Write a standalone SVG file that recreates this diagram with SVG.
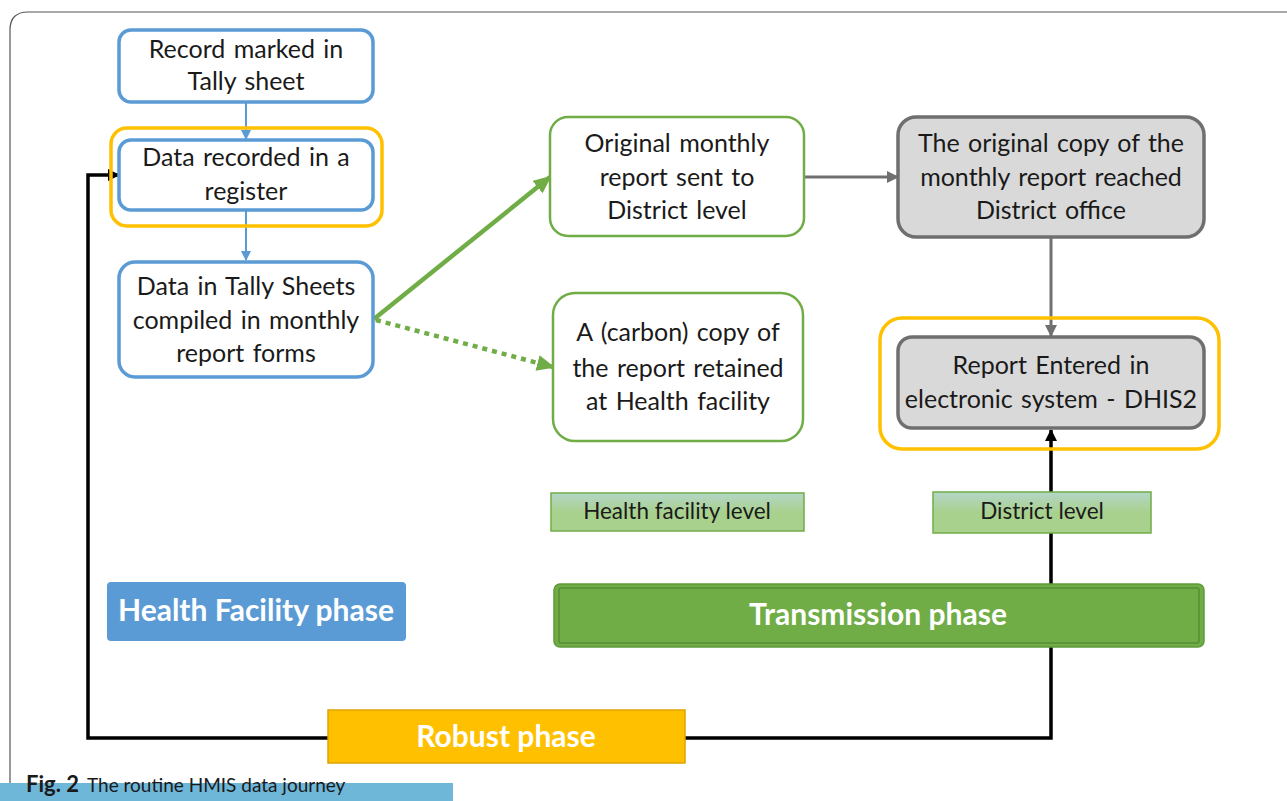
<svg xmlns="http://www.w3.org/2000/svg" width="1287" height="801" viewBox="0 0 1287 801">
<style>
  .t { font-family: Lato, "Liberation Sans", sans-serif; font-size: 25px; fill: #1a1a1a; text-anchor: middle; word-spacing: 2px; }
  .lvl { font-family: Lato, "Liberation Sans", sans-serif; font-size: 22.5px; fill: #1a1a1a; text-anchor: middle; }
  .ph { font-family: Lato, "Liberation Sans", sans-serif; font-size: 30px; font-weight: bold; fill: #ffffff; text-anchor: middle; }
  .blue { fill: #ffffff; stroke: #5b9bd5; stroke-width: 3.5; }
  .green { fill: #ffffff; stroke: #70ad47; stroke-width: 2.5; }
  .gray { fill: #d9d9d9; stroke: #6f6f6f; stroke-width: 3.5; }
  .yel { fill: none; stroke: #ffc000; stroke-width: 3.5; }
  .lv { fill: url(#lg); stroke: #70ad47; stroke-width: 1.5; }
</style>
<defs>
  <linearGradient id="lg" x1="0" y1="0" x2="0" y2="1">
    <stop offset="0" stop-color="#b4d6c8"/>
    <stop offset="0.5" stop-color="#a9d18e"/>
    <stop offset="1" stop-color="#a9d18e"/>
  </linearGradient>
  <marker id="ab" markerWidth="10" markerHeight="10" refX="9" refY="5" orient="auto" markerUnits="userSpaceOnUse"><path d="M0,0 L10,5 L0,10 z" fill="#5b9bd5"/></marker>
  <marker id="ag" markerWidth="18" markerHeight="16" refX="16" refY="8" orient="auto" markerUnits="userSpaceOnUse"><path d="M0,0 L18,8 L0,16 z" fill="#70ad47"/></marker>
  <marker id="agr" markerWidth="12" markerHeight="12" refX="11" refY="6" orient="auto" markerUnits="userSpaceOnUse"><path d="M0,0 L12,6 L0,12 z" fill="#707070"/></marker>
  <marker id="ak" markerWidth="12" markerHeight="12" refX="11" refY="6" orient="auto" markerUnits="userSpaceOnUse"><path d="M0,0 L12,6 L0,12 z" fill="#000000"/></marker>
</defs>
<rect x="0" y="0" width="1287" height="801" fill="#ffffff"/>
<path d="M10,801 L10,30 Q10,12 28,12 L1287,12" fill="none" stroke="#555555" stroke-width="1.2"/>

<g id="connectors">
  <line x1="246" y1="102" x2="246" y2="139" stroke="#5b9bd5" stroke-width="2" marker-end="url(#ab)"/>
  <line x1="246" y1="210" x2="246" y2="260" stroke="#5b9bd5" stroke-width="2" marker-end="url(#ab)"/>
  <line x1="374" y1="319" x2="550" y2="177" stroke="#70ad47" stroke-width="4.5" marker-end="url(#ag)"/>
  <line x1="376" y1="320" x2="553" y2="367" stroke="#70ad47" stroke-width="4.5" stroke-dasharray="5,5" marker-end="url(#ag)"/>
  <line x1="804" y1="177" x2="898" y2="177" stroke="#707070" stroke-width="3" marker-end="url(#agr)"/>
  <line x1="1051" y1="237" x2="1051" y2="336" stroke="#707070" stroke-width="3" marker-end="url(#agr)"/>
  <polyline points="685,738 1051,738 1051,430" fill="none" stroke="#000000" stroke-width="3.5" marker-end="url(#ak)"/>
  <polyline points="328,738 88,738 88,175 119,175" fill="none" stroke="#000000" stroke-width="3.5" marker-end="url(#ak)"/>
</g>

<g id="n1">
  <rect class="blue" x="119" y="30" width="254" height="72" rx="12"/>
  <text class="t" x="246" y="58">Record marked in</text>
  <text class="t" x="246" y="90">Tally sheet</text>
</g>
<g id="n2">
  <rect class="yel" x="111" y="128" width="271" height="98" rx="16"/>
  <rect class="blue" x="119" y="140" width="254" height="70" rx="12"/>
  <text class="t" x="246" y="166">Data recorded in a</text>
  <text class="t" x="246" y="200">register</text>
</g>
<g id="n3">
  <rect class="blue" x="119" y="262" width="254" height="115" rx="16"/>
  <text class="t" x="246" y="295">Data in Tally Sheets</text>
  <text class="t" x="246" y="329">compiled in monthly</text>
  <text class="t" x="246" y="362">report forms</text>
</g>
<g id="n4">
  <rect class="green" x="550" y="117" width="254" height="119" rx="18"/>
  <text class="t" x="677" y="152">Original monthly</text>
  <text class="t" x="677" y="186">report sent to</text>
  <text class="t" x="677" y="219">District level</text>
</g>
<g id="n5">
  <rect class="green" x="553" y="293" width="250" height="148" rx="22"/>
  <text class="t" x="678" y="341">A (carbon) copy of</text>
  <text class="t" x="678" y="377">the report retained</text>
  <text class="t" x="678" y="410">at Health facility</text>
</g>
<g id="n6">
  <rect class="gray" x="898" y="117" width="306" height="120" rx="18"/>
  <text class="t" x="1051" y="152">The original copy of the</text>
  <text class="t" x="1051" y="186">monthly report reached</text>
  <text class="t" x="1051" y="219">District office</text>
</g>
<g id="n7">
  <rect class="yel" x="880" y="318" width="339" height="131" rx="22"/>
  <rect class="gray" x="898" y="337" width="306" height="91" rx="14"/>
  <text class="t" x="1051" y="374">Report Entered in</text>
  <text class="t" x="1051" y="408">electronic system - DHIS2</text>
</g>
<g id="lvl-hf">
  <rect class="lv" x="551" y="493" width="253" height="38"/>
  <text class="lvl" x="677" y="519">Health facility level</text>
</g>
<g id="lvl-d">
  <rect class="lv" x="933" y="492" width="218" height="41"/>
  <text class="lvl" x="1042" y="519">District level</text>
</g>
<g id="ph-hf">
  <rect x="107" y="582" width="299" height="59" rx="4" fill="#5b9bd5"/>
  <text class="ph" x="256" y="621">Health Facility phase</text>
</g>
<g id="ph-tr">
  <rect x="554" y="584" width="650" height="63" rx="6" fill="#70ad47" stroke="#5e9a3a" stroke-width="1.5"/>
  <rect x="559" y="588" width="640" height="55" rx="2" fill="none" stroke="#558f35" stroke-width="1.5"/>
  <text class="ph" x="878" y="625">Transmission phase</text>
</g>
<g id="ph-rb">
  <rect x="328" y="710" width="357" height="53" fill="#ffc000" stroke="#e0a400" stroke-width="1.5"/>
  <text class="ph" x="506" y="747">Robust phase</text>
</g>

<g id="caption">
  <rect x="0" y="783" width="453" height="18" fill="#6fb7d9"/>
  <text x="26" y="792" font-family="Lato, 'Liberation Sans', sans-serif" font-size="19" fill="#1a1a1a"><tspan font-weight="bold" font-size="22">Fig. 2</tspan><tspan x="87">The routine HMIS data journey</tspan></text>
</g>
</svg>
